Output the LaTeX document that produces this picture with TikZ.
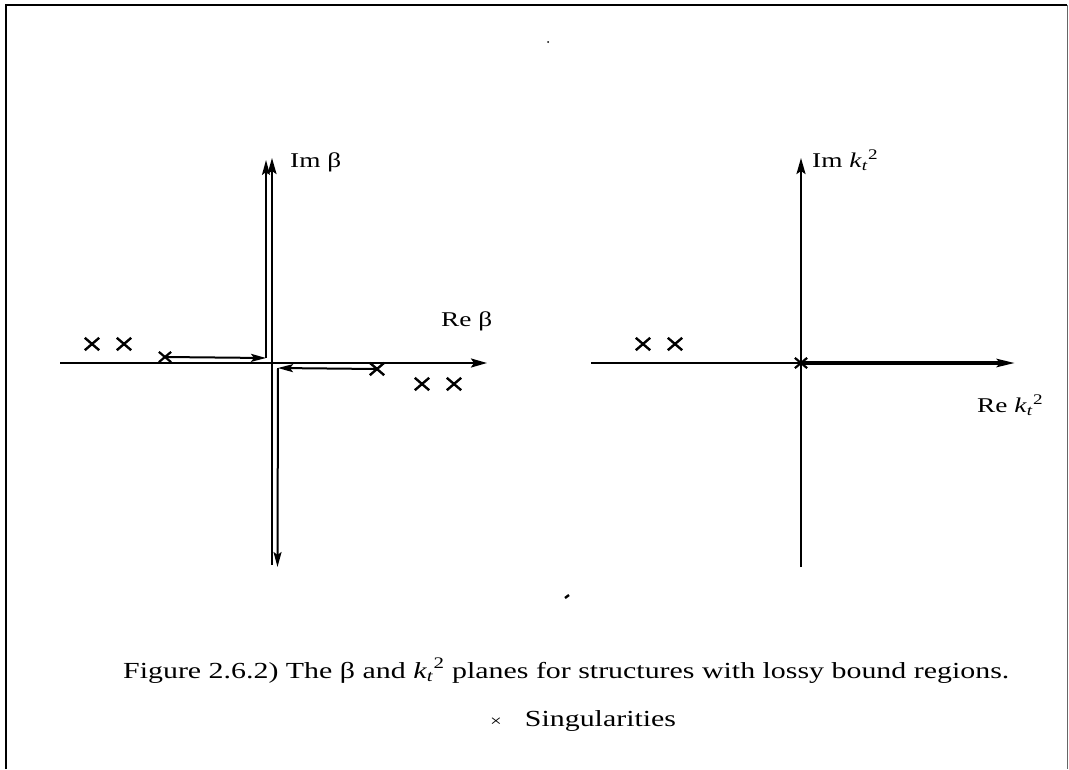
\documentclass[tikz,border=0pt]{standalone}
\usepackage{fontspec}
\setmainfont{Liberation Serif}[FakeStretch=1.3]
\usetikzlibrary{arrows.meta,shapes.misc}
\newcommand{\ktsq}{\textit{k}\textsubscript{\textit{t}}\textsuperscript{2}}
\tikzset{
  axisarrow/.style={line width=2.2pt, -{Stealth[length=16pt,width=9pt,inset=3pt]}},
  axisplain/.style={line width=2.2pt},
  contour/.style={line width=2pt, -{Stealth[length=15pt,width=8pt,inset=3pt]}},
  sing/.style={cross out, draw, line width=2.4pt, minimum width=12pt, minimum height=10pt, inner sep=0pt},
  singsmall/.style={cross out, draw, line width=2.2pt, minimum width=10pt, minimum height=8pt, inner sep=0pt},
  lab/.style={font=\fontsize{21}{25}\selectfont, inner sep=0pt},
  captext/.style={font=\fontsize{23}{27}\selectfont, inner sep=0pt},
  frameline/.style={line width=2pt},
}
\begin{document}
\begin{tikzpicture}[x=1pt,y=-1pt]
\useasboundingbox (0,0) rectangle (1069,769);
% frame
\coordinate (fTL) at (6,5); \coordinate (fTR) at (1067,5);
\coordinate (fBL) at (6,769); \coordinate (fBR) at (1067,769);
\draw[frameline] (fBL) -- (fTL) -- (fTR);
\draw[line width=0.8pt, black!60] (fTR) -- (fBR);

% ---------- left plane (beta) ----------
\coordinate (hL) at (60,363); \coordinate (hR) at (487,363);
\coordinate (vT) at (272,158); \coordinate (vB) at (272,565);
\draw[axisarrow] (hL) -- (hR);
\draw[axisarrow] (vB) -- (vT);

\node[sing] (s1) at (92,344) {};
\node[sing] (s2) at (124,344) {};
\node[singsmall] (s3) at (165,357) {};
\node[sing] (s4) at (377,369) {};
\node[sing] (s5) at (422,384) {};
\node[sing] (s6) at (454,384) {};

\coordinate (c1) at (266,358); \coordinate (c2) at (266,160);
\coordinate (c3) at (278,368); \coordinate (c4) at (277.5,567);
\draw[contour] (s3.center) -- (c1);
\draw[contour] (c1) -- (c2);
\draw[contour] (s4.center) -- (c3);
\draw[contour] (c3) -- (c4);

\node[lab, anchor=base west] (imb) at (290,167) {Im β};
\node[lab, anchor=base west] (reb) at (441,326) {Re β};

% ---------- right plane (k_t^2) ----------
\coordinate (h2L) at (591,363); \coordinate (h2R) at (1015,363);
\coordinate (o2) at (801,363);
\coordinate (v2T) at (801,158); \coordinate (v2B) at (801,567);
\draw[axisplain] (h2L) -- (o2);
\draw[line width=3.6pt, -{Stealth[length=18pt,width=8pt,inset=3pt]}] (o2) -- (h2R);
\draw[axisarrow] (v2B) -- (v2T);
\node[singsmall] (t0) at (o2) {};
\node[sing] (t1) at (643,344) {};
\node[sing] (t2) at (675,344) {};

\node[lab, anchor=base west] (imk) at (812,167) {Im \ktsq};
\node[lab, anchor=base west] (rek) at (977,412) {Re \ktsq};

% stray marks
\fill (548,42) circle (1pt);
\draw[line width=2.4pt] (565,598) -- (569,595);

% ---------- caption ----------
\node[captext, anchor=base west] (cap1) at (123,678) {Figure 2.6.2) The β and \ktsq\ planes for structures with lossy bound regions.};
\node[captext, anchor=base west] (cap2) at (490,726) {{\fontsize{16}{18}\selectfont ×}\quad Singularities};
\end{tikzpicture}
\end{document}
